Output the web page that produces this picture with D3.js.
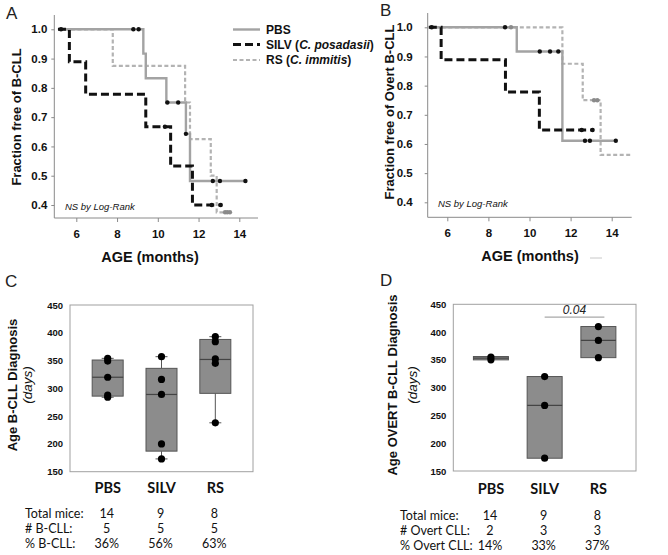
<!DOCTYPE html>
<html><head><meta charset="utf-8">
<script src="https://cdn.jsdelivr.net/npm/d3@7"></script>
<style>
body{margin:0;background:#fff;}
svg{display:block;}
</style></head>
<body>
<svg id="c" width="668" height="555"></svg>
<script>
// ---------- Kaplan-Meier data (months, fraction free) ----------
const kmXTicks = [6, 8, 10, 12, 14];
const kmYTicks = [0.4, 0.5, 0.6, 0.7, 0.8, 0.9, 1.0];
// Panel A
const aPBS_t  = [5.1, 9.29, 9.41, 10.42, 11.38, 11.58, 14.3];
const aPBS_s  = [1, 0.917, 0.833, 0.75, 0.643, 0.482, 0.482];
const aSILV_t = [5.1, 5.66, 6.46, 9.41, 10.63, 11.7, 13.14];
const aSILV_s = [1, 0.889, 0.778, 0.667, 0.533, 0.4, 0.4];
const aRS_t   = [5.1, 7.79, 11.34, 11.58, 12.6, 12.89, 13.54];
const aRS_s   = [1, 0.875, 0.75, 0.625, 0.5, 0.375, 0.375];
const aPBSc_t  = [8.8, 9.06, 10.47, 11.0, 11.38, 12.7, 13.05, 14.3];
const aPBSc_s  = [1, 1, 0.75, 0.75, 0.643, 0.482, 0.482, 0.482];
const aSILVc_t = [5.25, 10.35, 12.65, 13.09];
const aSILVc_s = [1, 0.667, 0.4, 0.4];
const aRSc_t   = [13.3, 13.41, 13.54];
const aRSc_s   = [0.375, 0.375, 0.375];
// Panel B
const bPBS_t  = [5.1, 9.38, 11.6, 14.2];
const bPBS_s  = [1, 0.917, 0.611, 0.611];
const bSILV_t = [5.1, 5.7, 8.83, 10.48, 13.14];
const bSILV_s = [1, 0.889, 0.778, 0.648, 0.648];
const bRS_t   = [5.1, 11.6, 12.59, 13.46, 14.97];
const bRS_s   = [1, 0.875, 0.75, 0.5625, 0.5625];
const bPBSc_t  = [8.81, 10.5, 11.0, 11.4, 12.7, 12.94, 14.2];
const bPBSc_s  = [1, 0.917, 0.917, 0.917, 0.611, 0.611, 0.611];
const bSILVc_t = [5.24, 12.54, 13.07];
const bSILVc_s = [1, 0.648, 0.648];
const bRSc_t   = [9.1, 13.14, 13.3];
const bRSc_s   = [1, 0.75, 0.75];

const legendLabels = ["PBS", "SILV (", "RS ("];

// ---------- Box plot data (days) ----------
const groups = ["PBS", "SILV", "RS"];
const boxYTicks = [150, 200, 250, 300, 350, 400, 450];
const cPoints = [[354, 349, 320, 288, 284], [357, 316, 289, 200, 173], [393, 384, 353, 345, 238]];
const cQ1  = [286, 187, 291];
const cMed = [320, 289, 352];
const cQ3  = [351, 336, 388];
const cMin = [284, 173, 238];
const cMax = [354, 357, 393];
const dPoints = [[355, 350], [320, 268, 173], [410, 385, 354]];
const dQ1  = [350, 173, 354];
const dMed = [353, 268, 385];
const dQ3  = [356, 320, 410];
const cRowLabels = ["Total mice:", "# B-CLL:", "% B-CLL:"];
const cRowValues = [["14", "9", "8"], ["5", "5", "5"], ["36%", "56%", "63%"]];
const dRowLabels = ["Total mice:", "# Overt CLL:", "% Overt CLL:"];
const dRowValues = [["14", "9", "8"], ["2", "3", "3"], ["14%", "33%", "37%"]];
const pLabel = "0.04";

// ---------- drawing ----------
const svg = d3.select("#c");
const ARIAL = "'Liberation Sans', Arial, sans-serif";
const CAL = "Lato, 'Open Sans', sans-serif";
const axisGray = "#8a8a8a";

function letter(x, y, t) {
  svg.append("text").attr("x", x).attr("y", y).text(t)
    .attr("font-family", ARIAL).attr("font-size", 17).attr("fill", "#222");
}
letter(6, 19, "A"); letter(380, 16, "B"); letter(5, 287, "C"); letter(380, 286, "D");

function kmPanel(cfg) {
  const x = d3.scaleLinear().domain([6, 14]).range([cfg.x6, cfg.x14]);
  const y = d3.scaleLinear().domain([0.4, 1.0]).range([cfg.y04, cfg.y10]);
  const g = svg.append("g");
  g.append("line").attr("x1", cfg.ax).attr("x2", cfg.ax).attr("y1", cfg.top).attr("y2", cfg.bottom)
    .attr("stroke", axisGray).attr("stroke-width", 1);
  g.append("line").attr("x1", cfg.ax).attr("x2", cfg.right).attr("y1", cfg.bottom).attr("y2", cfg.bottom)
    .attr("stroke", axisGray).attr("stroke-width", 1);
  const yAxis = d3.axisLeft(y).tickValues(kmYTicks).tickFormat(d3.format(".1f")).tickSize(3).tickPadding(cfg.yPad);
  const ya = g.append("g").attr("transform", `translate(${cfg.ax},0)`).call(yAxis);
  ya.select(".domain").remove();
  ya.selectAll("line").attr("stroke", axisGray);
  ya.selectAll("text").attr("font-family", ARIAL).attr("font-weight", "bold").attr("font-size", 11.5).attr("fill", "#111");
  const xAxis = d3.axisBottom(x).tickValues(kmXTicks).tickSize(4).tickPadding(8);
  const xa = g.append("g").attr("transform", `translate(0,${cfg.bottom})`).call(xAxis);
  xa.select(".domain").remove();
  xa.selectAll("line").attr("stroke", axisGray);
  xa.selectAll("text").attr("font-family", ARIAL).attr("font-weight", "bold").attr("font-size", 11.5).attr("fill", "#111");

  const line = d3.line().x(d => x(d[0])).y(d => y(d[1])).curve(d3.curveStepAfter);
  const styles = {
    PBS: {stroke: "#a3a3a3", w: 2.4, dash: null},
    SILV: {stroke: "#111", w: 3, dash: "8,4"},
    RS: {stroke: "#b3b3b3", w: 2.2, dash: "4,2.5"}
  };
  ["RS", "PBS", "SILV"].forEach(k => {
    const s = cfg.series[k];
    const pts = s.t.map((t, i) => [t, s.s[i]]);
    g.append("path").attr("d", line(pts)).attr("fill", "none")
      .attr("stroke", styles[k].stroke).attr("stroke-width", styles[k].w)
      .attr("stroke-dasharray", styles[k].dash);
  });
  ["PBS", "SILV", "RS"].forEach(k => {
    const c = cfg.cens[k];
    g.selectAll(null).data(c.t.map((t, i) => [t, c.s[i]])).enter().append("circle")
      .attr("cx", d => x(d[0])).attr("cy", d => y(d[1])).attr("r", 2.2)
      .attr("fill", k === "RS" ? "#8a8a8a" : "#111");
  });
  g.append("text").attr("x", cfg.nsX).attr("y", cfg.nsY).text("NS by Log-Rank")
    .attr("font-family", ARIAL).attr("font-style", "italic").attr("font-size", 9.5).attr("fill", "#111");
  g.append("text").attr("transform", `translate(${cfg.ylx},${cfg.yly}) rotate(-90)`)
    .attr("text-anchor", "middle").text(cfg.ylabel)
    .attr("font-family", ARIAL).attr("font-weight", "bold").attr("font-size", 13).attr("fill", "#111");
  g.append("text").attr("x", cfg.xlx).attr("y", cfg.xly).attr("text-anchor", "middle").text("AGE (months)")
    .attr("font-family", ARIAL).attr("font-weight", "bold").attr("font-size", 14.5).attr("fill", "#111");
}

kmPanel({
  x6: 76.3, x14: 239.3, y04: 205, y10: 29.3, ax: 54.3, right: 258, top: 15, bottom: 218, yPad: 4,
  series: {PBS: {t: aPBS_t, s: aPBS_s}, SILV: {t: aSILV_t, s: aSILV_s}, RS: {t: aRS_t, s: aRS_s}},
  cens: {PBS: {t: aPBSc_t, s: aPBSc_s}, SILV: {t: aSILVc_t, s: aSILVc_s}, RS: {t: aRSc_t, s: aRSc_s}},
  nsX: 65, nsY: 210, ylx: 21, yly: 117, ylabel: "Fraction free of B-CLL", xlx: 150, xly: 262
});
kmPanel({
  x6: 447.3, x14: 611.7, y04: 202.3, y10: 27.3, ax: 427.7, right: 631.7, top: 13, bottom: 217.3, yPad: 12,
  series: {PBS: {t: bPBS_t, s: bPBS_s}, SILV: {t: bSILV_t, s: bSILV_s}, RS: {t: bRS_t, s: bRS_s}},
  cens: {PBS: {t: bPBSc_t, s: bPBSc_s}, SILV: {t: bSILVc_t, s: bSILVc_s}, RS: {t: bRSc_t, s: bRSc_s}},
  nsX: 438, nsY: 207, ylx: 394, yly: 112, ylabel: "Fraction free of Overt B-CLL", xlx: 530, xly: 261
});
svg.append("line").attr("x1", 590).attr("x2", 602).attr("y1", 258).attr("y2", 258).attr("stroke", "#c8c8c8").attr("stroke-width", 1);

// legend
(function () {
  const lx1 = 233, lx2 = 260, tx = 266;
  const ys = [29.5, 44.5, 60];
  const st = [
    {stroke: "#a3a3a3", w: 2.4, dash: null},
    {stroke: "#111", w: 3, dash: "8,4"},
    {stroke: "#b3b3b3", w: 2, dash: "4,2.5"}
  ];
  const species = [null, "C. posadasii", "C. immitis"];
  legendLabels.forEach((lab, i) => {
    svg.append("line").attr("x1", lx1).attr("x2", lx2).attr("y1", ys[i]).attr("y2", ys[i])
      .attr("stroke", st[i].stroke).attr("stroke-width", st[i].w).attr("stroke-dasharray", st[i].dash);
    const t = svg.append("text").attr("x", tx).attr("y", ys[i] + 4.3)
      .attr("font-family", ARIAL).attr("font-weight", "bold").attr("font-size", 12).attr("fill", "#111");
    t.append("tspan").text(lab);
    if (species[i]) {
      t.append("tspan").attr("font-style", "italic").text(species[i]);
      t.append("tspan").text(")");
    }
  });
})();

// ---------- Box plots ----------
function boxPanel(cfg) {
  const x = d3.scalePoint().domain(groups).range([cfg.left, cfg.right]).padding(0.7);
  const y = d3.scaleLinear().domain([150, 450]).range([cfg.bottom, cfg.top]);
  const g = svg.append("g");
  g.append("rect").attr("x", cfg.left).attr("y", cfg.top).attr("width", cfg.right - cfg.left)
    .attr("height", cfg.bottom - cfg.top).attr("fill", "none").attr("stroke", "#a0a0a0").attr("stroke-width", 1);
  const ya = g.append("g").attr("transform", `translate(${cfg.left},0)`)
    .call(d3.axisLeft(y).tickValues(boxYTicks).tickSize(0).tickPadding(7));
  ya.select(".domain").remove();
  ya.selectAll("text").attr("font-family", ARIAL).attr("font-weight", "bold").attr("font-size", 9.5).attr("fill", "#111");
  const bw = cfg.bw;
  groups.forEach((gname, i) => {
    const cx = x(gname);
    if (cfg.min) {
      g.append("line").attr("x1", cx).attr("x2", cx).attr("y1", y(cfg.max[i])).attr("y2", y(cfg.q3[i])).attr("stroke", "#555");
      g.append("line").attr("x1", cx).attr("x2", cx).attr("y1", y(cfg.min[i])).attr("y2", y(cfg.q1[i])).attr("stroke", "#555");
      g.append("line").attr("x1", cx - 6).attr("x2", cx + 6).attr("y1", y(cfg.max[i])).attr("y2", y(cfg.max[i])).attr("stroke", "#555");
      g.append("line").attr("x1", cx - 6).attr("x2", cx + 6).attr("y1", y(cfg.min[i])).attr("y2", y(cfg.min[i])).attr("stroke", "#555");
    }
    g.append("rect").attr("x", cx - bw / 2).attr("y", y(cfg.q3[i])).attr("width", bw)
      .attr("height", y(cfg.q1[i]) - y(cfg.q3[i])).attr("fill", "#8c8c8c").attr("stroke", "#555").attr("stroke-width", 1);
    g.append("line").attr("x1", cx - bw / 2).attr("x2", cx + bw / 2).attr("y1", y(cfg.med[i])).attr("y2", y(cfg.med[i]))
      .attr("stroke", "#444").attr("stroke-width", 1.2);
    g.selectAll(null).data(cfg.points[i]).enter().append("circle")
      .attr("cx", cx).attr("cy", d => y(d)).attr("r", 3.6).attr("fill", "#000");
    g.append("text").attr("x", cx).attr("y", cfg.catY).attr("text-anchor", "middle").text(gname)
      .attr("font-family", CAL).attr("font-weight", "bold").attr("font-size", 14.5).attr("fill", "#111");
    cfg.rowValues.forEach((row, r) => {
      g.append("text").attr("x", cx - 1).attr("y", cfg.rowY[r]).attr("text-anchor", "middle").text(row[i])
        .attr("font-family", CAL).attr("font-size", 12.5).attr("fill", "#111");
    });
  });
  cfg.rowLabels.forEach((lab, r) => {
    g.append("text").attr("x", cfg.labX).attr("y", cfg.rowY[r]).text(lab)
      .attr("font-family", CAL).attr("font-size", 12.5).attr("fill", "#111");
  });
  const yl = g.append("g").attr("transform", `translate(${cfg.ylx},${cfg.yly}) rotate(-90)`);
  yl.append("text").attr("text-anchor", "middle").attr("y", 0).text(cfg.ylabel)
    .attr("font-family", ARIAL).attr("font-weight", "bold").attr("font-size", 13).attr("fill", "#111");
  yl.append("text").attr("text-anchor", "middle").attr("y", cfg.daysOff).text("(days)")
    .attr("font-family", ARIAL).attr("font-style", "italic").attr("font-size", 13.5).attr("fill", "#111");
  if (cfg.p) {
    const yv = 427;
    g.append("line").attr("x1", x("SILV")).attr("x2", x("RS") + 6).attr("y1", y(yv)).attr("y2", y(yv))
      .attr("stroke", "#a8a8a8").attr("stroke-width", 1.3);
    g.append("text").attr("x", (x("SILV") + x("RS") + 6) / 2).attr("y", y(yv) - 3).attr("text-anchor", "middle")
      .text(cfg.p).attr("font-family", ARIAL).attr("font-style", "italic").attr("font-size", 12).attr("fill", "#222");
  }
}

boxPanel({
  left: 70, right: 253, top: 305, bottom: 471.7, bw: 31,
  points: cPoints, q1: cQ1, med: cMed, q3: cQ3, min: cMin, max: cMax,
  catY: 493, rowY: [517.5, 532.5, 547.5], labX: 25, rowLabels: cRowLabels, rowValues: cRowValues,
  ylx: 17, yly: 385, ylabel: "Age B-CLL Diagnosis", daysOff: 15
});
boxPanel({
  left: 453.3, right: 636, top: 304.3, bottom: 471, bw: 35,
  points: dPoints, q1: dQ1, med: dMed, q3: dQ3, min: null, max: null,
  catY: 494, rowY: [519.5, 534.5, 550], labX: 400, rowLabels: dRowLabels, rowValues: dRowValues,
  ylx: 397, yly: 385, ylabel: "Age OVERT B-CLL Diagnosis", daysOff: 19.5, p: pLabel
});
</script>
</body></html>
